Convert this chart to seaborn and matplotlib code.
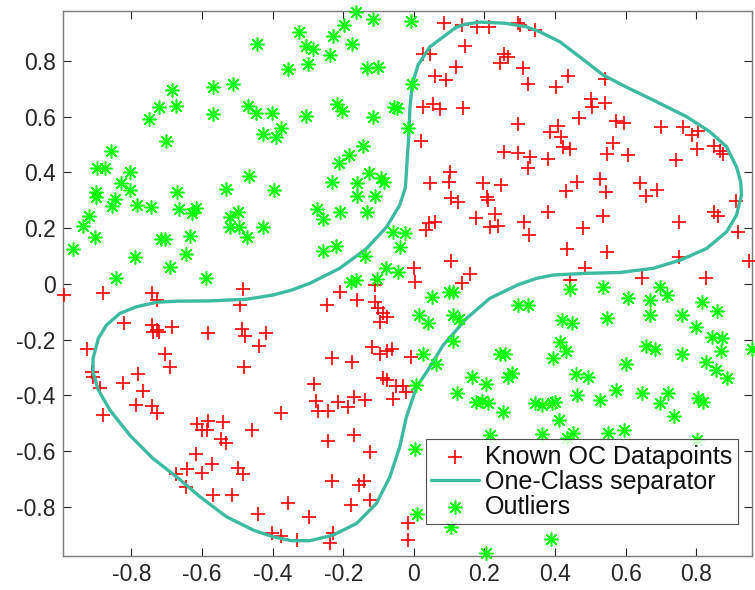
import matplotlib
matplotlib.use("Agg")
import matplotlib.pyplot as plt
import seaborn as sns
import pandas as pd

# Known one-class datapoints (red crosses)
oc_x = [0.085, 0.135, 0.178, 0.212, 0.296, 0.300, 0.144, 0.026, 0.047, 0.256, 0.267, 0.244, 0.118, 0.310,
        0.059, 0.091, 0.324, 0.025, 0.053, 0.074, 0.140, 0.294, 0.020, 0.256, 0.294, 0.102, 0.100, 0.045,
        0.195, 0.246,
        0.343, 0.437, 0.402, 0.541, 0.503, 0.506, 0.541, 0.468, 0.574, 0.595, 0.407, 0.385, 0.418, 0.423,
        0.442, 0.700, 0.763, 0.789, 0.804, 0.801, 0.851, 0.867, 0.876, 0.565, 0.546, 0.607, 0.744, 0.329,
        0.324, 0.380, 0.461, 0.527, 0.640,
        0.430, 0.544, 0.657, 0.688, 0.912, 0.380, 0.537, 0.313, 0.326, 0.478, 0.433, 0.546, 0.752, 0.851,
        0.862, 0.919, 0.752, 0.950, 0.484, 0.442, 0.645, 0.829,
        0.105, 0.124, 0.206, 0.210, 0.043, 0.059, 0.034, 0.176, 0.229, 0.215, 0.239, 0.105, 0.000, 0.003,
        0.159, 0.137, -0.110, -0.210, -0.245, -0.160, -0.110, -0.103, -0.087, -0.077, -0.096, -0.233,
        -0.175, -0.120, -0.096, -0.077, -0.063, -0.007,
        -0.992, -0.882, -0.743, -0.727, -0.485, -0.493, -0.822, -0.743, -0.740, -0.729, -0.722, -0.686,
        -0.584, -0.486, -0.479, -0.419, -0.439, -0.925, -0.705, -0.691, -0.481,
        -0.913, -0.908, -0.890, -0.882, -0.823, -0.781, -0.767, -0.786, -0.743, -0.729, -0.614, -0.601,
        -0.584, -0.587, -0.540, -0.547, -0.531, -0.458, -0.377, -0.616, -0.573, -0.601, -0.644, -0.674,
        -0.646, -0.499, -0.485, -0.570, -0.515, -0.443, -0.358, -0.403, -0.377,
        -0.282, -0.087, -0.077, -0.051, -0.030, -0.021, -0.058, -0.278, -0.271, -0.243, -0.214, -0.188,
        -0.169, -0.139, -0.243, -0.169, -0.125, -0.233, -0.155, -0.142, -0.178, -0.125, -0.297, -0.332,
        -0.238, -0.229, -0.016, -0.016]
oc_y = [0.938, 0.929, 0.923, 0.923, 0.935, 0.929, 0.855, 0.825, 0.825, 0.825, 0.813, 0.792, 0.780, 0.774,
        0.746, 0.732, 0.716, 0.634, 0.646, 0.628, 0.630, 0.574, 0.513, 0.474, 0.469, 0.400, 0.367, 0.361,
        0.361, 0.355,
        0.911, 0.746, 0.706, 0.735, 0.664, 0.634, 0.650, 0.594, 0.586, 0.578, 0.568, 0.546, 0.526, 0.490,
        0.483, 0.564, 0.562, 0.534, 0.549, 0.483, 0.496, 0.478, 0.466, 0.507, 0.466, 0.462, 0.445, 0.456,
        0.415, 0.448, 0.367, 0.376, 0.361,
        0.333, 0.331, 0.316, 0.337, 0.297, 0.257, 0.245, 0.223, 0.175, 0.199, 0.125, 0.113, 0.221, 0.257,
        0.245, 0.187, 0.097, 0.082, 0.058, 0.014, 0.020, 0.022,
        0.309, 0.295, 0.313, 0.301, 0.217, 0.221, 0.193, 0.235, 0.250, 0.205, 0.209, 0.082, 0.058, 0.008,
        0.034, 0.002, -0.004, -0.028, -0.076, -0.058, -0.064, -0.086, -0.106, -0.118, -0.136, -0.265,
        -0.280, -0.226, -0.250, -0.240, -0.232, -0.262,
        -0.040, -0.034, -0.034, -0.058, -0.019, -0.076, -0.142, -0.148, -0.172, -0.166, -0.172, -0.154,
        -0.178, -0.163, -0.186, -0.178, -0.223, -0.232, -0.252, -0.298, -0.298,
        -0.316, -0.334, -0.375, -0.469, -0.355, -0.324, -0.385, -0.433, -0.438, -0.465, -0.503, -0.525,
        -0.491, -0.525, -0.495, -0.558, -0.570, -0.525, -0.463, -0.611, -0.645, -0.680, -0.666, -0.683,
        -0.728, -0.660, -0.684, -0.758, -0.758, -0.827, -0.788, -0.896, -0.904,
        -0.360, -0.339, -0.345, -0.367, -0.367, -0.387, -0.415, -0.420, -0.456, -0.456, -0.423, -0.443,
        -0.405, -0.417, -0.563, -0.543, -0.603, -0.707, -0.722, -0.707, -0.794, -0.776, -0.836, -0.920,
        -0.932, -0.896, -0.860, -0.920]

# Outliers (green asterisks)
out_x = [-0.444, -0.358, -0.686, -0.570, -0.512, -0.723, -0.674, -0.750, -0.570, -0.471, -0.448, -0.403,
         -0.377, -0.427, -0.391, -0.701, -0.858, -0.899, -0.875, -0.805, -0.831, -0.467,
         -0.165, -0.117, -0.008, -0.197, -0.326, -0.229, -0.175, -0.306, -0.287, -0.238, -0.299, -0.134,
         -0.103, -0.004, -0.219, -0.205, -0.306, -0.117, -0.056, -0.049, -0.018, -0.144, -0.183, -0.212,
         -0.127, -0.233, -0.162, -0.092, -0.085,
         -0.901, -0.901, -0.805, -0.847, -0.854, -0.783, -0.746, -0.670, -0.666, -0.630, -0.616, -0.531,
         -0.396, -0.521, -0.498, -0.521, -0.496, -0.474, -0.427, -0.920, -0.936, -0.904, -0.967, -0.715,
         -0.705, -0.635, -0.647, -0.790, -0.691, -0.844, -0.589,
         -0.162, -0.110, -0.274, -0.257, -0.210, -0.134, -0.058, -0.025, -0.040, -0.257, -0.221, -0.139,
         -0.079, -0.044, -0.104, -0.178, -0.164, 0.050, 0.100, 0.110, 0.015, 0.041, 0.111, 0.127, 0.294,
         0.111, 0.025, 0.062, 0.244, 0.258,
         0.442, 0.537, 0.324, 0.697, 0.716, 0.607, 0.670, 0.815, 0.860, 0.670, 0.761, 0.421, 0.447, 0.546,
         0.798, 0.846, 0.874, 0.414, 0.430, 0.395, 0.657, 0.683, 0.761, 0.870, 0.957, 0.602, 0.829, 0.856,
         0.459, 0.494, 0.888, 0.343, 0.362, 0.390, 0.399, 0.461, 0.527, 0.572, 0.645, 0.720, 0.697, 0.805,
         0.820, 0.737, 0.411, 0.362, 0.451, 0.433, 0.549, 0.595, 0.389, 0.801,
         0.006, 0.166, 0.204, 0.123, 0.176, 0.192, 0.209, 0.253, 0.267, 0.277, 0.215, 0.003, 0.008, 0.105,
         0.204]
out_y = [0.860, 0.770, 0.696, 0.706, 0.717, 0.634, 0.638, 0.592, 0.610, 0.638, 0.614, 0.614, 0.559, 0.540,
         0.528, 0.513, 0.478, 0.415, 0.415, 0.400, 0.361, 0.388,
         0.978, 0.951, 0.945, 0.929, 0.905, 0.890, 0.861, 0.855, 0.842, 0.822, 0.788, 0.774, 0.780, 0.717,
         0.646, 0.622, 0.604, 0.598, 0.634, 0.630, 0.558, 0.495, 0.462, 0.433, 0.399, 0.367, 0.363, 0.379,
         0.367,
         0.331, 0.313, 0.337, 0.305, 0.281, 0.283, 0.277, 0.331, 0.269, 0.253, 0.273, 0.340, 0.337, 0.241,
         0.257, 0.205, 0.205, 0.167, 0.205, 0.245, 0.209, 0.169, 0.125, 0.160, 0.160, 0.172, 0.107, 0.097,
         0.061, 0.022, 0.022,
         0.316, 0.316, 0.269, 0.233, 0.257, 0.257, 0.187, 0.181, 0.131, 0.118, 0.136, 0.101, 0.058, 0.041,
         0.017, 0.008, 0.014, -0.046, -0.028, -0.028, -0.110, -0.142, -0.112, -0.126, -0.074, -0.205,
         -0.252, -0.286, -0.250, -0.253,
         -0.019, -0.010, -0.074, -0.010, -0.040, -0.052, -0.058, -0.064, -0.098, -0.110, -0.110, -0.130,
         -0.142, -0.122, -0.156, -0.190, -0.196, -0.208, -0.240, -0.265, -0.223, -0.234, -0.252, -0.240,
         -0.232, -0.288, -0.280, -0.310,
         -0.324, -0.334, -0.339, -0.429, -0.435, -0.429, -0.423, -0.399, -0.417, -0.381, -0.391, -0.390,
         -0.429, -0.411, -0.423, -0.474, -0.489, -0.539, -0.535, -0.555, -0.535, -0.525, -0.915, -0.561,
         -0.363, -0.336, -0.360, -0.390, -0.423, -0.420, -0.426, -0.459, -0.336, -0.319, -0.543, -0.593,
         -0.827, -0.873, -0.965]

# One-class decision boundary (closed contour, traced counter-clockwise from the top)
sep_x = [0.118, 0.045, 0.012, -0.004, -0.011, -0.014, -0.019, -0.024, -0.040, -0.077, -0.134, -0.210,
         -0.295, -0.346, -0.399, -0.474, -0.578, -0.672, -0.729, -0.786, -0.833, -0.871, -0.894, -0.909,
         -0.909, -0.894, -0.861, -0.805, -0.739, -0.672, -0.606, -0.531, -0.455, -0.399, -0.346, -0.295,
         -0.229, -0.162, -0.106, -0.068, -0.040, -0.021, 0.008, 0.036, 0.083, 0.149, 0.215, 0.295, 0.348,
         0.395, 0.489, 0.584, 0.678, 0.754, 0.829, 0.886, 0.914, 0.928, 0.926, 0.914, 0.886, 0.839, 0.773,
         0.678, 0.603, 0.536, 0.470, 0.414, 0.357, 0.319, 0.258, 0.187, 0.144, 0.118]
sep_y = [0.920, 0.851, 0.786, 0.720, 0.636, 0.540, 0.445, 0.346, 0.283, 0.205, 0.127, 0.056, 0.002,
         -0.022, -0.040, -0.055, -0.061, -0.062, -0.066, -0.082, -0.106, -0.148, -0.196, -0.268, -0.317,
         -0.381, -0.453, -0.543, -0.627, -0.693, -0.764, -0.836, -0.884, -0.908, -0.922, -0.922, -0.902,
         -0.860, -0.788, -0.693, -0.585, -0.477, -0.369, -0.317, -0.220, -0.124, -0.052, -0.003, 0.020,
         0.032, 0.038, 0.041, 0.056, 0.085, 0.127, 0.187, 0.247, 0.319, 0.366, 0.420, 0.492, 0.546, 0.600,
         0.660, 0.706, 0.750, 0.815, 0.869, 0.905, 0.923, 0.936, 0.940, 0.932, 0.920]

x_ticks = [-0.8, -0.6, -0.4, -0.2, 0, 0.2, 0.4, 0.6, 0.8]
x_ticklabels = ["-0.8", "-0.6", "-0.4", "-0.2", "0", "0.2", "0.4", "0.6", "0.8"]
y_ticks = [-0.8, -0.6, -0.4, -0.2, 0, 0.2, 0.4, 0.6, 0.8]
y_ticklabels = ["-0.8", "-0.6", "-0.4", "-0.2", "0", "0.2", "0.4", "0.6", "0.8"]

labels = ["Known OC Datapoints", "One-Class separator", "Outliers"]

sns.set_theme(style="white")
plt.rcParams["font.family"] = ["Liberation Sans", "DejaVu Sans"]
plt.rcParams["axes.unicode_minus"] = False

oc = pd.DataFrame({"x": oc_x, "y": oc_y})
out = pd.DataFrame({"x": out_x, "y": out_y})
sep = pd.DataFrame({"x": sep_x, "y": sep_y})

fig = plt.figure(figsize=(7.55, 5.9), dpi=100)
ax = fig.add_axes([0.0830, 0.0576, 0.9126, 0.9243])

sns.scatterplot(data=oc, x="x", y="y", ax=ax, marker="+", color="#ff0000", s=95,
                linewidth=1.2, label=labels[0], clip_on=False, zorder=3)
sns.lineplot(data=sep, x="x", y="y", ax=ax, sort=False, estimator=None, color="#3dbba0",
             linewidth=2.4, label=labels[1], zorder=4)
sns.scatterplot(data=out, x="x", y="y", ax=ax, marker=(8, 2, 0), color="#00ff00", s=95,
                linewidth=1.1, label=labels[2], clip_on=False, zorder=5)

ax.set_xlim(-0.995, 0.957)
ax.set_ylim(-0.977, 0.981)
ax.set_xticks(x_ticks)
ax.set_xticklabels(x_ticklabels)
ax.set_yticks(y_ticks)
ax.set_yticklabels(y_ticklabels)
ax.set_xlabel("")
ax.set_ylabel("")

ax.tick_params(axis="both", which="both", direction="in", length=6, width=0.8,
               color="#262626", labelsize=16.5, labelcolor="#262626",
               top=True, right=True, bottom=True, left=True, pad=5)
for side in ax.spines.values():
    side.set_visible(True)
    side.set_color("#7a7a7a")
    side.set_linewidth(1.0)

leg = ax.legend(loc="lower right", bbox_to_anchor=(0.98, 0.0587), borderaxespad=0,
                fontsize=18, frameon=True, fancybox=False, edgecolor="#262626",
                handlelength=1.9, handletextpad=0.25, labelspacing=0.04, borderpad=0.22,
                markerscale=1.0)
leg.get_frame().set_linewidth(0.8)
leg.set_zorder(10)
for t in leg.get_texts():
    t.set_color("#111111")

fig.savefig("out.png", dpi=100)
